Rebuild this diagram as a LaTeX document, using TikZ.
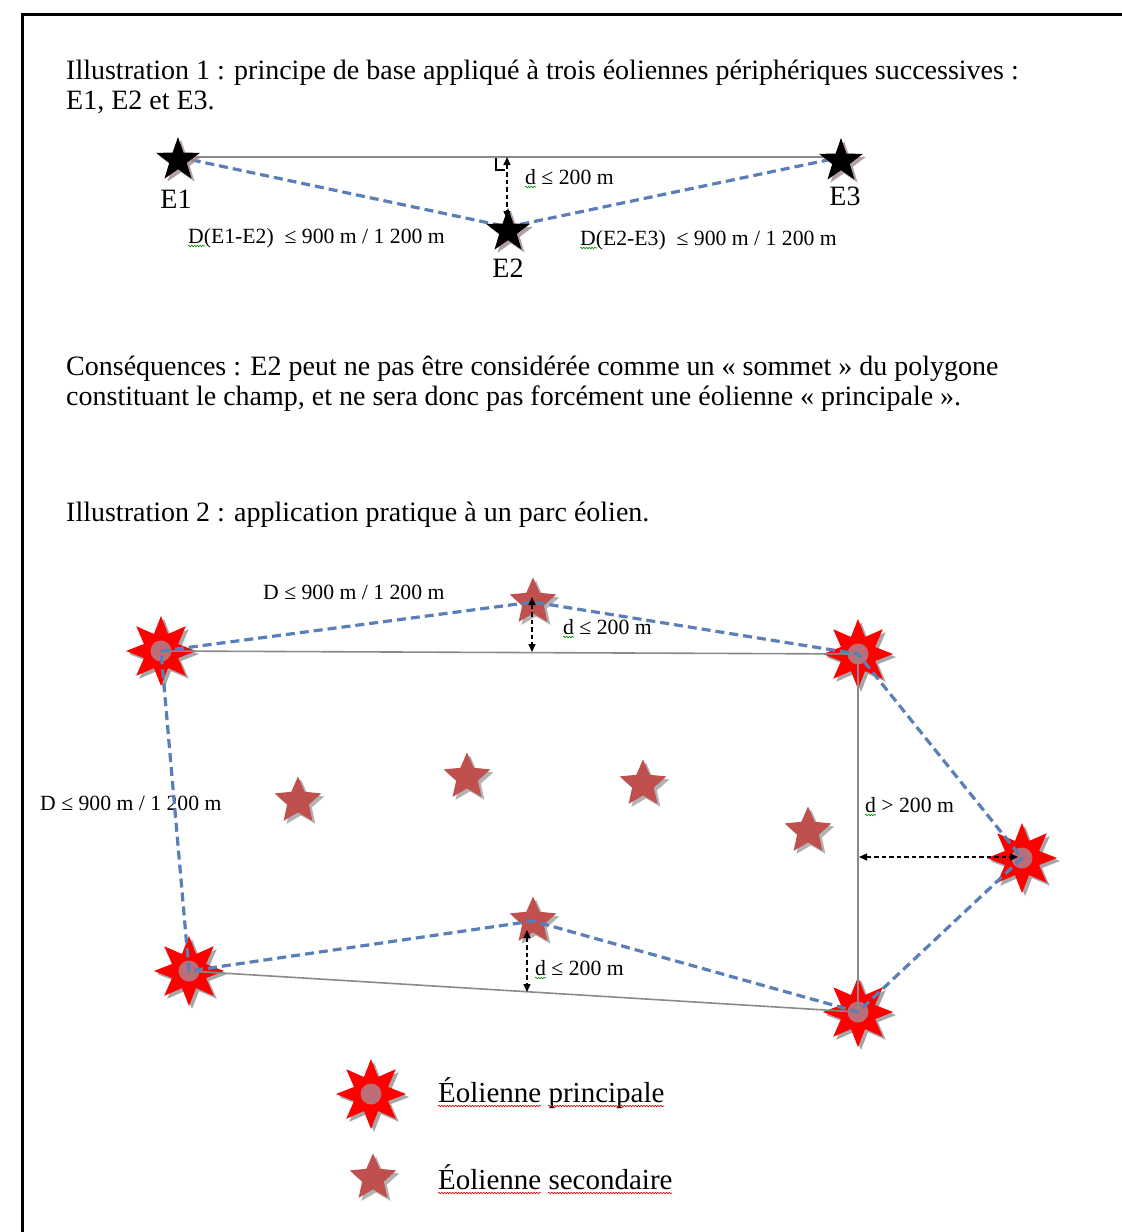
\documentclass[tikz,border=0pt]{standalone}
\usepackage{fontspec}
\setmainfont{Liberation Serif}
\usetikzlibrary{shapes.geometric,arrows.meta,shadows,decorations.pathmorphing}
\definecolor{dblue}{HTML}{5A7EB6}
\definecolor{secred}{HTML}{C0504D}
\definecolor{hubc}{HTML}{BC6E76}
\definecolor{lgray}{HTML}{8A8A8A}
\definecolor{pshadow}{HTML}{A08890}
\begin{document}
\begin{tikzpicture}[x=1pt,y=-1pt,
  txt/.style={font=\fontsize{28}{31}\selectfont, inner sep=0pt, anchor=base west},
  legtxt/.style={font=\fontsize{29}{32}\selectfont, inner sep=0pt, anchor=base west},
  lbl/.style={font=\fontsize{21.7}{24}\selectfont, inner sep=0pt, anchor=base west},
  elbl/.style={font=\fontsize{28}{31}\selectfont, inner sep=0pt, anchor=center},
  blkstar/.style={star, star points=5, star point ratio=2.5, inner sep=0pt, minimum size=46pt, fill=black,
    drop shadow={shadow xshift=3pt, shadow yshift=-3pt, fill=pshadow, opacity=0.8}},
  prinstar/.style={star, star points=8, star point ratio=1.9, inner sep=0pt, minimum size=70pt, fill=red,
    drop shadow={shadow xshift=3pt, shadow yshift=-3pt, fill=black, opacity=0.35}},
  secstar/.style={star, star points=5, star point ratio=2.15, inner sep=0pt, minimum size=49pt, fill=secred,
    drop shadow={shadow xshift=3pt, shadow yshift=-3pt, fill=black, opacity=0.3}},
  hub/.style={circle, fill=hubc, inner sep=0pt, minimum size=21pt},
  grayline/.style={draw=lgray, line width=1.6pt},
  bluedash/.style={draw=dblue, line width=3.2pt, dash pattern=on 9pt off 5pt},
  dimarrow/.style={draw=black, line width=1.5pt, dash pattern=on 4.5pt off 3pt,
    {Triangle[length=8pt,width=7pt]}-{Triangle[length=8pt,width=7pt]}},
  wave/.style={decorate, decoration={snake, amplitude=0.8pt, segment length=2.8pt}, line width=0.6pt},
  gwave/.style={wave, draw=green!55!black},
  rwave/.style={wave, draw=red!85!black},
]
\useasboundingbox (0,0) rectangle (1122,1232);
\fill[white] (0,0) rectangle (1122,1232);
\draw[line width=3pt] (22,1232) -- (22,14) -- (1122,14);

% ---------- texts ----------
\node[txt] (t1) at (66,79) {Illustration 1 : principe de base appliqué à trois éoliennes périphériques successives :};
\node[txt] (t2) at (66,109) {E1, E2 et E3.};
\node[txt] (t3) at (66,375) {Conséquences : E2 peut ne pas être considérée comme un «~sommet~» du polygone};
\node[txt] (t4) at (66,405) {constituant le champ, et ne sera donc pas forcément une éolienne «~principale~».};
\node[txt] (t5) at (66,521) {Illustration 2 : application pratique à un parc éolien.};

% ---------- illustration 1 ----------
\coordinate (l1) at (178,157);
\coordinate (l3) at (842,157);
\coordinate (f1) at (507,157);
\coordinate (g1) at (507,219);
\draw[grayline] (l1) -- (l3);
\draw[bluedash] (l1) -- (508,227) -- (l3);
\draw[line width=1.2pt] (496,158) -- (496,170) -- (505,170);
\draw[dimarrow] (f1) -- (g1);
\node[blkstar] (e1) at (178,160) {};
\node[blkstar] (e3) at (841,161) {};
\node[blkstar] (e2) at (508,231) {};
\node[elbl] (n1) at (176,199) {E1};
\node[elbl] (n3) at (845,196) {E3};
\node[elbl] (n2) at (508,268) {E2};
\node[lbl] (dl1) at (525,184) {d ≤ 200 m};
\node[lbl] (dd1) at (188,243) {D(E1-E2)\ \ ≤ 900 m / 1 200 m};
\node[lbl] (dd2) at (580,245) {D(E2-E3)\ \ ≤ 900 m / 1 200 m};
\draw[gwave] ([yshift=-3pt]dl1.base west) -- ++(11,0);
\draw[gwave] ([yshift=-3pt]dd1.base west) -- ++(17,0);
\draw[gwave] ([yshift=-3pt]dd2.base west) -- ++(17,0);

% ---------- illustration 2 ----------
\node[prinstar] (p1) at (161,651) {};
\node[prinstar] (p2) at (858,654) {};
\node[prinstar] (p3) at (1022,858) {};
\node[prinstar] (p4) at (858,1012) {};
\node[prinstar] (p5) at (189,971) {};
\foreach \p in {p1,p2,p3,p4,p5} \node[hub] (h\p) at (\p.center) {};

\node[secstar] (s1) at (533,602) {};
\node[secstar] (s2) at (298,801) {};
\node[secstar] (s3) at (467,777) {};
\node[secstar] (s4) at (643,784) {};
\node[secstar] (s5) at (808,831) {};
\node[secstar] (s6) at (533,921) {};

\node[lbl] (dtop) at (263,599) {D ≤ 900 m / 1 200 m};
\node[lbl] (dleft) at (40,810) {D ≤ 900 m / 1 200 m};
\node[lbl] (dsm1) at (563,634) {d ≤ 200 m};
\node[lbl] (dgt) at (865,812) {d > 200 m};
\node[lbl] (dsm2) at (535,975) {d ≤ 200 m};
\draw[gwave] ([yshift=-3pt]dsm1.base west) -- ++(11,0);
\draw[gwave] ([yshift=-3pt]dgt.base west) -- ++(11,0);
\draw[gwave] ([yshift=-3pt]dsm2.base west) -- ++(11,0);

\draw[grayline] (p1.center) -- (p2.center) -- (p4.center) -- (p5.center);
\draw[bluedash] (p1.center) -- (s1.center) -- (p2.center) -- (p3.center) -- (p4.center) -- (s6.center) -- (p5.center) -- cycle;

\coordinate (a1t) at (532,597);
\coordinate (a1b) at (532,652);
\coordinate (a2t) at (527,930);
\coordinate (a2b) at (527,992);
\coordinate (a3l) at (859,857);
\coordinate (a3r) at (1018,857);
\draw[dimarrow] (a1t) -- (a1b);
\draw[dimarrow] (a2t) -- (a2b);
\draw[dimarrow] (a3l) -- (a3r);

% ---------- legend ----------
\node[prinstar] (legp) at (371,1094) {};
\node[hub] (leghub) at (legp.center) {};
\node[secstar] (legs) at (373,1178) {};
\node[legtxt] (lp) at (438,1102) {Éolienne principale};
\node[legtxt] (ls) at (438,1189) {Éolienne secondaire};
\draw[rwave] ([yshift=-4pt]lp.base west) -- ++(103,0);
\draw[rwave] ([yshift=-4pt]lp.base west) ++(110,0) -- ++(116,0);
\draw[rwave] ([yshift=-4pt]ls.base west) -- ++(103,0);
\draw[rwave] ([yshift=-4pt]ls.base west) ++(110,0) -- ++(124,0);
\end{tikzpicture}
\end{document}
